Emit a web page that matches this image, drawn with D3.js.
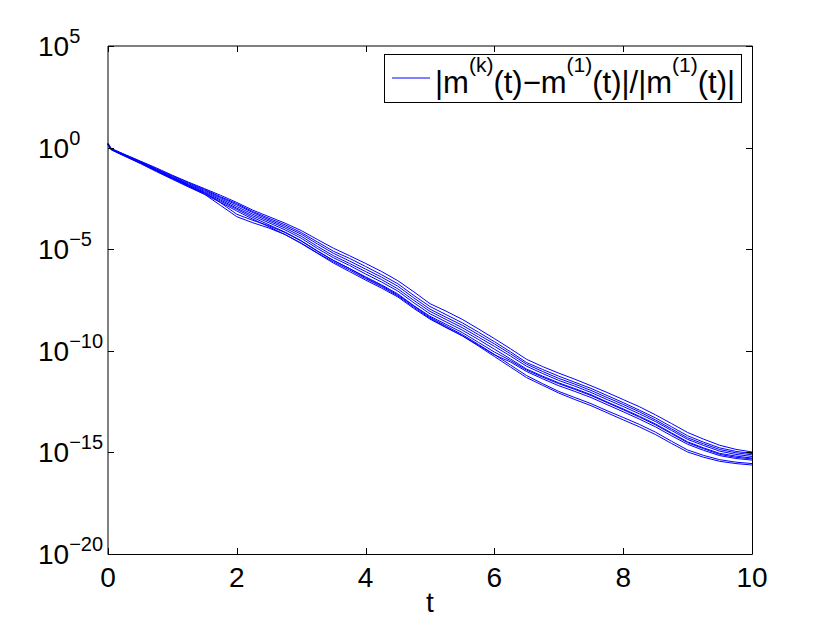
<!DOCTYPE html>
<html>
<head>
<meta charset="utf-8">
<script src="https://cdn.jsdelivr.net/npm/d3@7/dist/d3.min.js"></script>
<style>
  html, body { margin: 0; padding: 0; background: #fff; }
  svg text { font-family: "Liberation Sans", Arial, Helvetica, sans-serif; fill: #000; }
</style>
</head>
<body>
<svg id="chart" width="830" height="624"></svg>
<script>
// ---- data (values stored as log10 exponents of the relative difference) ----
const tValues = [0, 0.05, 0.25, 0.5, 0.75, 1, 1.25, 1.5, 1.75, 2, 2.25, 2.5, 2.75, 3, 3.25, 3.5, 3.75, 4,
  4.25, 4.5, 4.75, 5, 5.25, 5.5, 5.75, 6, 6.25, 6.5, 6.75, 7, 7.25, 7.5, 7.75, 8, 8.25, 8.5, 8.75, 9,
  9.25, 9.5, 9.75, 10];

const series1 = [0.22, -0.04, -0.32, -0.66, -1.00, -1.36, -1.70, -2.02, -2.35, -2.70, -3.08, -3.40, -3.72, -4.08,
  -4.52, -4.95, -5.32, -5.70, -6.10, -6.55, -7.10, -7.68, -8.05, -8.45, -8.92, -9.40, -9.90, -10.42, -10.78, -11.10,
  -11.40, -11.72, -12.05, -12.40, -12.75, -13.15, -13.58, -14.02, -14.35, -14.65, -14.85, -14.98];
const series2 = [0.20, -0.06, -0.34, -0.68, -1.04, -1.39, -1.74, -2.06, -2.42, -2.76, -3.15, -3.48, -3.80, -4.18,
  -4.64, -5.10, -5.45, -5.85, -6.26, -6.70, -7.28, -7.82, -8.22, -8.62, -9.08, -9.55, -10.05, -10.58, -10.92, -11.25,
  -11.55, -11.85, -12.20, -12.55, -12.92, -13.30, -13.74, -14.18, -14.50, -14.78, -14.95, -15.06];
const series3 = [0.18, -0.07, -0.36, -0.70, -1.06, -1.43, -1.78, -2.10, -2.46, -2.82, -3.20, -3.55, -3.88, -4.26,
  -4.74, -5.20, -5.58, -5.98, -6.38, -6.82, -7.40, -7.95, -8.35, -8.74, -9.20, -9.66, -10.15, -10.66, -11.02, -11.36,
  -11.64, -11.95, -12.30, -12.64, -13.00, -13.40, -13.84, -14.28, -14.58, -14.86, -15.02, -15.12];
const series4 = [0.17, -0.08, -0.37, -0.72, -1.10, -1.46, -1.82, -2.15, -2.52, -2.90, -3.28, -3.62, -3.96, -4.36,
  -4.86, -5.32, -5.70, -6.10, -6.50, -6.95, -7.52, -8.06, -8.46, -8.86, -9.32, -9.78, -10.26, -10.76, -11.12, -11.46,
  -11.74, -12.05, -12.40, -12.74, -13.10, -13.48, -13.92, -14.36, -14.66, -14.94, -15.10, -15.20];
const series5 = [0.16, -0.09, -0.38, -0.74, -1.12, -1.50, -1.86, -2.20, -2.58, -2.98, -3.36, -3.70, -4.05, -4.46,
  -4.96, -5.42, -5.80, -6.22, -6.62, -7.06, -7.64, -8.18, -8.58, -8.98, -9.44, -9.92, -10.40, -10.90, -11.25, -11.58,
  -11.86, -12.16, -12.52, -12.86, -13.22, -13.60, -14.04, -14.48, -14.78, -15.05, -15.18, -15.28];
const series6 = [0.15, -0.10, -0.40, -0.76, -1.15, -1.53, -1.90, -2.25, -2.64, -3.04, -3.44, -3.80, -4.16, -4.58,
  -5.08, -5.55, -5.95, -6.36, -6.76, -7.20, -7.78, -8.30, -8.70, -9.10, -9.58, -10.06, -10.48, -10.95, -11.30, -11.62,
  -11.90, -12.20, -12.55, -12.90, -13.26, -13.64, -14.08, -14.52, -14.82, -15.10, -15.24, -15.32];
const series7 = [0.14, -0.11, -0.41, -0.78, -1.18, -1.56, -1.94, -2.30, -2.70, -3.12, -3.52, -3.90, -4.28, -4.72,
  -5.20, -5.68, -6.10, -6.52, -6.92, -7.35, -7.92, -8.44, -8.86, -9.26, -9.72, -10.20, -10.55, -11.02, -11.38, -11.72,
  -12.00, -12.30, -12.65, -13.00, -13.36, -13.74, -14.18, -14.60, -14.90, -15.16, -15.30, -15.38];
const series8 = [0.16, -0.08, -0.37, -0.73, -1.10, -1.48, -1.85, -2.22, -2.72, -3.28, -3.58, -3.85, -4.18, -4.60,
  -5.10, -5.55, -5.95, -6.40, -6.80, -7.25, -7.80, -8.35, -8.78, -9.20, -9.68, -10.18, -10.70, -11.22, -11.62, -12.00,
  -12.30, -12.60, -12.95, -13.28, -13.62, -14.00, -14.45, -14.88, -15.15, -15.36, -15.48, -15.55];
const series9 = [0.15, -0.09, -0.38, -0.75, -1.13, -1.52, -1.90, -2.30, -2.85, -3.40, -3.70, -3.96, -4.28, -4.70,
  -5.18, -5.62, -6.02, -6.45, -6.85, -7.30, -7.86, -8.40, -8.84, -9.26, -9.76, -10.28, -10.80, -11.32, -11.70, -12.08,
  -12.40, -12.70, -13.05, -13.40, -13.74, -14.12, -14.56, -14.98, -15.24, -15.44, -15.55, -15.62];

const allSeries = [series1, series2, series3, series4, series5, series6, series7, series8, series9];

const xTicks = [0, 2, 4, 6, 8, 10];
const yTickExponents = [5, 0, -5, -10, -15, -20];
const xLabel = "t";

// ---- layout ----
const svg = d3.select("#chart");
const mLeft = 108, mRight = 752, mTop = 46, mBottom = 554;

const x = d3.scaleLinear().domain([0, 10]).range([mLeft, mRight]);
const y = d3.scaleLog().domain([1e-20, 1e5]).range([mBottom, mTop]);

// ---- lines ----
const line = d3.line()
  .x((d, i) => x(tValues[i]))
  .y(d => y(Math.pow(10, d)));

svg.append("g")
  .selectAll("path")
  .data(allSeries)
  .join("path")
  .attr("d", line)
  .attr("fill", "none")
  .attr("stroke", "#0000ff")
  .attr("stroke-width", 1);

// ---- axes box ----
const axisG = svg.append("g");
function seg(x1, y1, x2, y2) {
  axisG.append("line").attr("x1", x1).attr("y1", y1).attr("x2", x2).attr("y2", y2)
    .attr("stroke", "#000").attr("stroke-width", 1);
}
seg(mLeft, mTop, mLeft, mBottom + 0.5);
seg(mLeft, mTop, mRight + 0.5, mTop);
seg(mLeft, mBottom + 0.5, mRight + 0.5, mBottom + 0.5);
seg(mRight + 0.5, mTop, mRight + 0.5, mBottom + 0.5);

const tickLen = 6;
xTicks.forEach(t => {
  const px = Math.round(x(t)) + 0.5;
  seg(px, mBottom, px, mBottom - tickLen);
  seg(px, mTop, px, mTop + tickLen);
  svg.append("text")
    .attr("x", x(t)).attr("y", 587)
    .attr("text-anchor", "middle")
    .attr("font-size", 28)
    .text(t);
});

yTickExponents.forEach(e => {
  const py = Math.round(y(Math.pow(10, e))) + 0.5;
  seg(mLeft, py, mLeft + tickLen, py);
  seg(mRight, py, mRight - tickLen, py);
  const txt = svg.append("text")
    .attr("x", 38).attr("y", y(Math.pow(10, e)) + 10)
    .attr("text-anchor", "start")
    .attr("font-size", 28);
  txt.append("tspan").text("10");
  txt.append("tspan").attr("dy", -13).attr("font-size", 20).text(e < 0 ? "\u2212" + (-e) : String(e));
});

svg.append("text")
  .attr("x", x(5)).attr("y", 612)
  .attr("text-anchor", "middle")
  .attr("font-size", 28)
  .text(xLabel);

// ---- legend ----
const lg = svg.append("g");
lg.append("rect")
  .attr("x", 384.5).attr("y", 54.5).attr("width", 357).attr("height", 48)
  .attr("fill", "#fff").attr("stroke", "#000").attr("stroke-width", 1);
lg.append("line")
  .attr("x1", 392).attr("x2", 430).attr("y1", 78).attr("y2", 78)
  .attr("stroke", "#0000ff").attr("stroke-width", 1);
const lt = lg.append("text").attr("x", 435).attr("y", 93).attr("font-size", 31);
const parts = [
  ["|m", 0], ["(k)", 1], ["(t)\u2212m", 0], ["(1)", 1], ["(t)|/|m", 0], ["(1)", 1], ["(t)|", 0]
];
let prevSup = false;
parts.forEach(([s, sup]) => {
  const ts = lt.append("tspan").text(s);
  if (sup) ts.attr("font-size", 21);
  if (sup && !prevSup) ts.attr("dy", -21);
  if (!sup && prevSup) ts.attr("dy", 21);
  prevSup = !!sup;
});
</script>
</body>
</html>
